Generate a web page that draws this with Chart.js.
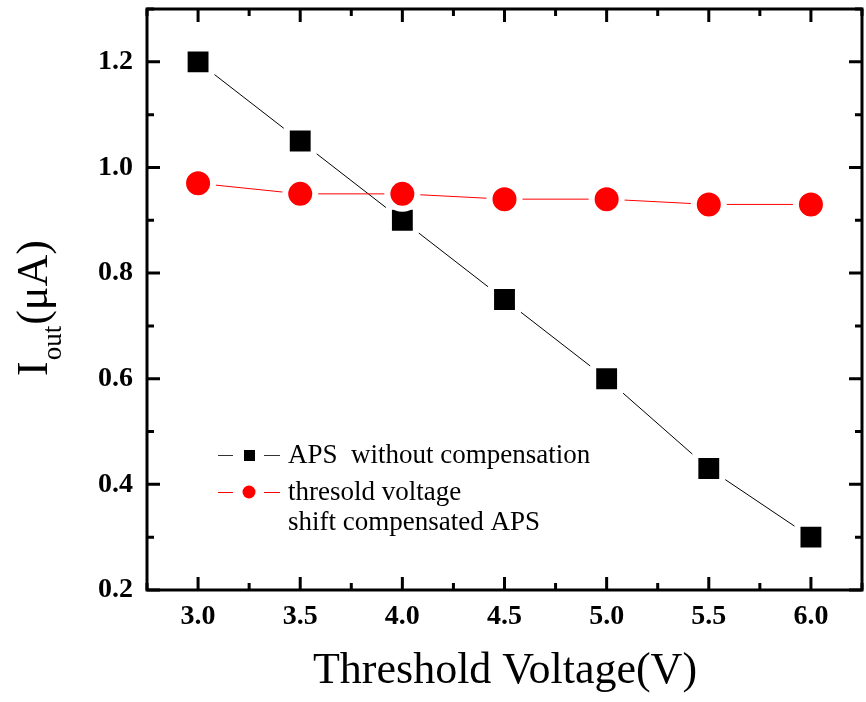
<!DOCTYPE html>
<html>
<head>
<meta charset="utf-8">
<script src="https://cdn.jsdelivr.net/npm/chart.js@4"></script>
<style>
  html, body { margin: 0; padding: 0; background: #fff; }
  canvas { display: block; }
</style>
</head>
<body>
<canvas id="iout-chart" width="866" height="702"></canvas>
<script>
const thresholdV = [3.0, 3.5, 4.0, 4.5, 5.0, 5.5, 6.0];
const apsUncomp = [1.2, 1.05, 0.9, 0.75, 0.6, 0.43, 0.3];
const apsComp = [0.97, 0.95, 0.95, 0.94, 0.94, 0.93, 0.93];
const xTicks = [3.0, 3.5, 4.0, 4.5, 5.0, 5.5, 6.0];
const yTicks = [0.2, 0.4, 0.6, 0.8, 1.0, 1.2];

const SERIF = "'Liberation Serif', 'Times New Roman', serif";

// keep the plot box fixed: no extra room for half tick labels
const fixBox = (size) => (s) => {
    if (s.isHorizontal()) s.height = size; else s.width = size;
    s.paddingTop = 0;
    s.paddingBottom = 0;
    s.paddingLeft = 0;
    s.paddingRight = 0;
};

// frame with inward ticks on all four sides, plus axis titles and legend
const framePlugin = {
    id: 'frame',
    afterDatasetsDraw(chart) {
        const { ctx, chartArea: a, scales } = chart;
        const xs = scales.x, ys = scales.y;
        ctx.save();
        ctx.strokeStyle = '#000';
        ctx.lineWidth = 3;
        ctx.lineCap = 'butt';
        ctx.strokeRect(a.left, a.top, a.right - a.left, a.bottom - a.top);

        const xMinor = xTicks.map((v) => v + 0.25).concat([xTicks[0] - 0.25]);
        const yMinor = yTicks.map((v) => v + 0.1);

        ctx.beginPath();
        const xTick = (v, len) => {
            const px = xs.getPixelForValue(v);
            ctx.moveTo(px, a.bottom); ctx.lineTo(px, a.bottom - len);
            ctx.moveTo(px, a.top); ctx.lineTo(px, a.top + len);
        };
        const yTick = (v, len) => {
            const py = ys.getPixelForValue(v);
            ctx.moveTo(a.left, py); ctx.lineTo(a.left + len, py);
            ctx.moveTo(a.right, py); ctx.lineTo(a.right - len, py);
        };
        xTicks.forEach((v) => xTick(v, 13));
        xMinor.forEach((v) => xTick(v, 7));
        yTicks.forEach((v) => yTick(v, 13));
        yMinor.forEach((v) => yTick(v, 7));
        ctx.stroke();

        // x title
        ctx.fillStyle = '#000';
        ctx.font = '44px ' + SERIF;
        ctx.textAlign = 'center';
        ctx.textBaseline = 'alphabetic';
        ctx.fillText('Threshold Voltage(V)', 505, 683);

        // y title: I_out(μA)
        ctx.save();
        ctx.translate(47, 376);
        ctx.rotate(-Math.PI / 2);
        ctx.textAlign = 'left';
        ctx.font = '44px ' + SERIF;
        ctx.fillText('I', 0, 0);
        let off = ctx.measureText('I').width + 1;
        ctx.font = '27px ' + SERIF;
        ctx.fillText('out', off, 14);
        off += ctx.measureText('out').width + 1;
        ctx.font = '44px ' + SERIF;
        ctx.fillText('(\u03bcA)', off, 0);
        ctx.restore();

        // legend
        const rows = [
            { y: 455, color: '#000', line: '#333', shape: 'rect', text: 'APS  without compensation', base: 463 },
            { y: 492, color: '#ff0000', line: '#ff0000', shape: 'circle', text: 'thresold voltage', base: 500 },
        ];
        ctx.textAlign = 'left';
        rows.forEach((r) => {
            ctx.strokeStyle = r.line;
            ctx.lineWidth = 1;
            ctx.beginPath();
            ctx.moveTo(218, r.y + 0.5); ctx.lineTo(233, r.y + 0.5);
            ctx.moveTo(264, r.y + 0.5); ctx.lineTo(280, r.y + 0.5);
            ctx.stroke();
            ctx.fillStyle = r.color;
            if (r.shape === 'rect') {
                ctx.fillRect(244, r.y - 5, 11, 11);
            } else {
                ctx.beginPath();
                ctx.arc(249, r.y, 6.5, 0, Math.PI * 2);
                ctx.fill();
            }
            ctx.fillStyle = '#000';
            ctx.font = '27px ' + SERIF;
            ctx.fillText(r.text, 288, r.base);
        });
        ctx.fillText('shift compensated APS', 288, 530);
        ctx.restore();
    },
};

new Chart(document.getElementById('iout-chart'), {
    type: 'line',
    data: {
        datasets: [
            {
                label: 'APS  without compensation',
                data: thresholdV.map((x, i) => ({ x, y: apsUncomp[i] })),
                borderColor: '#000',
                borderWidth: 1,
                backgroundColor: '#000',
                pointStyle: 'rect',
                pointRadius: 19,
                pointBackgroundColor: '#000',
                pointBorderColor: '#fff',
                pointBorderWidth: 6,
                tension: 0,
                order: 2,
            },
            {
                label: 'thresold voltage shift compensated APS',
                data: thresholdV.map((x, i) => ({ x, y: apsComp[i] })),
                borderColor: '#ff0000',
                borderWidth: 1,
                backgroundColor: '#ff0000',
                pointStyle: 'circle',
                pointRadius: 15,
                pointBackgroundColor: '#ff0000',
                pointBorderColor: '#fff',
                pointBorderWidth: 6,
                tension: 0,
                order: 1,
            },
        ],
    },
    options: {
        responsive: false,
        animation: false,
        layout: { autoPadding: false, padding: { left: 0, top: 9, right: 4, bottom: 0 } },
        plugins: {
            legend: { display: false },
            tooltip: { enabled: false },
        },
        scales: {
            x: {
                type: 'linear',
                min: 2.75,
                max: 6.25,
                grid: { display: false, drawTicks: false },
                border: { display: false },
                afterBuildTicks: (s) => { s.ticks = xTicks.map((v) => ({ value: v })); },
                afterFit: fixBox(112),
                ticks: {
                    padding: 10,
                    color: '#000',
                    font: { family: SERIF, size: 28, weight: 'bold' },
                    callback: (v) => Number(v).toFixed(1),
                },
            },
            y: {
                type: 'linear',
                min: 0.2,
                max: 1.3,
                grid: { display: false, drawTicks: false },
                border: { display: false },
                afterBuildTicks: (s) => { s.ticks = yTicks.map((v) => ({ value: v })); },
                afterFit: fixBox(147),
                ticks: {
                    padding: 14,
                    color: '#000',
                    font: { family: SERIF, size: 28, weight: 'bold' },
                    callback: (v) => Number(v).toFixed(1),
                },
            },
        },
    },
    plugins: [framePlugin],
});
</script>
</body>
</html>
